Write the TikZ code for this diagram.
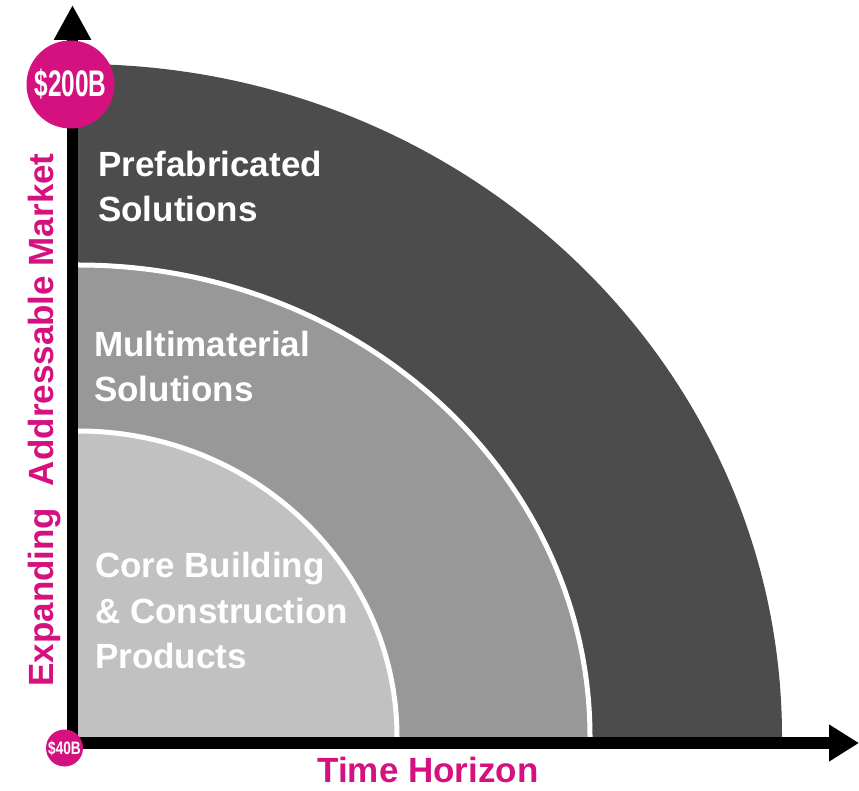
\documentclass[tikz,border=0pt]{standalone}
\usepackage{fontspec}
\setmainfont{Liberation Sans}
\usetikzlibrary{arrows.meta}
\definecolor{brandpink}{HTML}{D5107F}
\definecolor{bandDark}{HTML}{4C4C4C}
\definecolor{bandMid}{HTML}{989898}
\definecolor{bandLight}{HTML}{C1C1C1}
\begin{document}
\begin{tikzpicture}[x=1pt,y=1pt,
  bandtext/.style={inner sep=0pt, align=left, text=white,
    font=\bfseries\fontsize{35}{45}\selectfont},
  axistext/.style={inner sep=0pt, text=brandpink,
    font=\bfseries\fontsize{35}{42}\selectfont},
  sep/.style={draw=white, line width=5pt},
  axisline/.style={line width=11.5pt, line join=miter,
    {Triangle[width=35pt,length=35pt]}-{Triangle[width=35pt,length=30pt]}},
  valuebadge/.style={circle, fill=brandpink, text=white, inner sep=0pt}]
\useasboundingbox (0,0) rectangle (859,790);

% nested quarter-ellipse bands, centred on the inner corner of the axes
\fill[bandDark] (76,51) -- (782,51) -- (782,53)
  arc[start angle=0, end angle=90, x radius=704, y radius=673] -- (76,726) -- cycle;
\fill[bandMid] (76,51) -- (590,51) -- (590,53)
  arc[start angle=0, end angle=90, x radius=512, y radius=472] -- (76,525) -- cycle;
\fill[bandLight] (76,51) -- (397,51) -- (397,53)
  arc[start angle=0, end angle=90, x radius=319, y radius=306] -- (76,359) -- cycle;
\draw[sep] (590,53) arc[start angle=0, end angle=90, x radius=512, y radius=472];
\draw[sep] (397,53) arc[start angle=0, end angle=90, x radius=319, y radius=306];

% band captions (anchored on the baseline of their last line)
\node[bandtext, anchor=base west] (prefab) at (98,568) {Prefabricated\\Solutions};
\node[bandtext, anchor=base west] (multi) at (94,388) {Multimaterial\\Solutions};
\node[bandtext, anchor=base west] (core) at (95,122) {Core Building\\\& Construction\\Products};

% axes
\coordinate (corner) at (72.5,47);
\coordinate (ytip) at (72.5,785);
\coordinate (xtip) at (859,47);
\draw[axisline] (ytip) |- (xtip);

% axis titles
\node[axistext, anchor=base] (time) at (428,8) {Time Horizon};
\node[axistext, rotate=90, anchor=base] (market) at (53,370)
  {Expanding\hspace{12pt} Addressable Market};

% value badges at both ends of the vertical axis
\node[valuebadge, minimum size=88pt] (top) at (70.5,705.5)
  {\scalebox{0.66}[1]{\bfseries\fontsize{37}{37}\selectfont\$200B}};
\node[valuebadge, minimum size=37pt] (bottom) at (64.5,42)
  {\scalebox{0.76}[1]{\bfseries\fontsize{18}{18}\selectfont\$40B}};
\end{tikzpicture}
\end{document}
